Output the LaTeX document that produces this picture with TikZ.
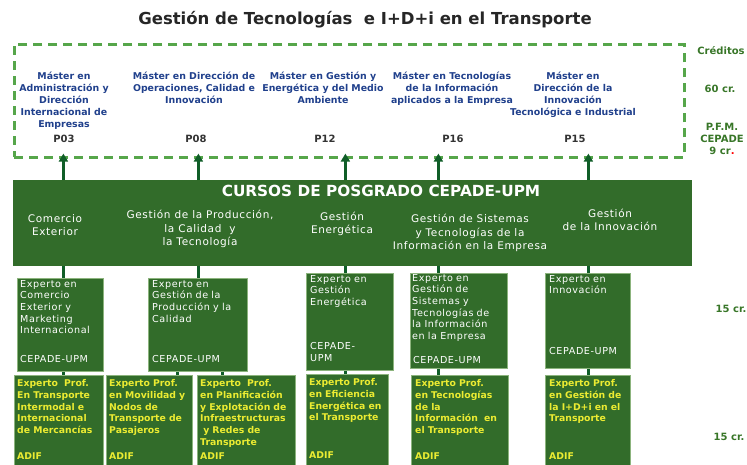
\documentclass[tikz,border=0pt]{standalone}
\usepackage{fontspec}
\setmainfont{DejaVu Sans}
\newfontfamily\spacedfont[LetterSpace=6]{DejaVu Sans}
\usetikzlibrary{arrows.meta}
\usetikzlibrary{positioning}

\definecolor{boxgreen}{RGB}{50,108,42}
\definecolor{arrowgreen}{RGB}{16,94,40}
\definecolor{dashgreen}{RGB}{86,166,74}
\definecolor{masterblue}{RGB}{32,64,140}
\definecolor{creditgreen}{RGB}{56,118,40}
\definecolor{profyellow}{RGB}{236,236,50}
\definecolor{edgegreen}{RGB}{140,180,125}

\begin{document}
\begin{tikzpicture}[
	x = 1pt, y = -1pt, % pixel grid, y grows downwards
	> = {Triangle[width=9pt, length=8pt]}, % arrow head style
	every node/.style = {inner sep=0pt}
	]

	\tikzstyle{dashframe}=[draw=dashgreen, line width=2.6pt, dash pattern=on 9pt off 6pt]
	\tikzstyle{master}=[text=masterblue, font=\bfseries\fontsize{9.4}{12}\selectfont, align=center, anchor=north]
	\tikzstyle{prog}=[text=black!80, font=\bfseries\fontsize{10}{11}\selectfont]
	\tikzstyle{credit}=[text=creditgreen, font=\bfseries\fontsize{10}{12}\selectfont, align=center]
	\tikzstyle{area}=[text=white, font=\spacedfont\fontsize{10.5}{13.5}\selectfont, align=center]
	\tikzstyle{expert}=[fill=boxgreen, draw=edgegreen, line width=0.8pt, anchor=north west]
	\tikzstyle{cepade}=[text=white, font=\spacedfont\fontsize{9.6}{11.6}\selectfont, align=left]
	\tikzstyle{adif}=[text=profyellow, font=\bfseries\fontsize{9.3}{11.9}\selectfont, align=left]
	\tikzstyle{uparrow}=[->, draw=arrowgreen, line width=3pt, shorten >=-5pt]
	\tikzstyle{link}=[draw=arrowgreen, line width=3pt]

	\useasboundingbox (0,0) rectangle (747,464);

	\node[font=\bfseries\fontsize{16.5}{18}\selectfont, text=black!85] (title) at (365,20) {Gestión de Tecnologías \ e I+D+i en el Transporte};

	% masters
	\node[dashframe, minimum width=670pt, minimum height=113pt, anchor=north west] (mframe) at (13,43) {};
	\node[master] (m1) at (64,72) {Máster en\\Administración y\\Dirección\\Internacional de\\Empresas};
	\node[master] (m2) at (194,72) {Máster en Dirección de\\Operaciones, Calidad e\\Innovación};
	\node[master] (m3) at (323,72) {Máster en Gestión y\\Energética y del Medio\\Ambiente};
	\node[master] (m4) at (452,72) {Máster en Tecnologías\\de la Información\\aplicados a la Empresa};
	\node[master] (m5) at (573,72) {Máster en\\Dirección de la\\Innovación\\Tecnológica e Industrial};
	\node[prog] (p1) at (64,139) {P03};
	\node[prog] (p2) at (196,139) {P08};
	\node[prog] (p3) at (325,139) {P12};
	\node[prog] (p4) at (453,139) {P16};
	\node[prog] (p5) at (575,139) {P15};

	% credits
	\node[credit] (cred) at (721,51) {Créditos};
	\node[credit] (cr60) at (720,89) {60 cr.};
	\node[credit] (pfm) at (722,139) {P.F.M.\\CEPADE\\9 cr{\color{red}.}};
	\node[credit] (cr15a) at (731,309) {15 cr.};
	\node[credit] (cr15b) at (729,437) {15 cr.};

	% cursos
	\node[fill=boxgreen, minimum width=679pt, minimum height=86pt, anchor=north west] (cursos) at (13,180) {};
	\node[text=white, font=\bfseries\fontsize{15.3}{17}\selectfont] (ctitle) at (381,191) {CURSOS DE POSGRADO CEPADE-UPM};
	\node[area] (a1) at (55,225) {Comercio\\Exterior};
	\node[area] (a2) at (200,229) {Gestión de la Producción,\\la Calidad \ y\\la Tecnología};
	\node[area] (a3) at (342,224) {Gestión\\Energética};
	\node[area] (a4) at (470,233) {Gestión de Sistemas\\y Tecnologías de la\\Información en la Empresa};
	\node[area] (a5) at (610,220) {Gestión\\de la Innovación};

	% expertos CEPADE-UPM
	\node[expert, minimum width=86pt, minimum height=93pt] (e1) at (17,278) {};
	\node[expert, minimum width=99pt, minimum height=93pt] (e2) at (148,278) {};
	\node[expert, minimum width=87pt, minimum height=97pt] (e3) at (306,273) {};
	\node[expert, minimum width=97pt, minimum height=95pt] (e4) at (410,273) {};
	\node[expert, minimum width=85pt, minimum height=95pt] (e5) at (545,273) {};

	\node[cepade, text width=84pt, below right=2pt and 3pt of e1.north west] (t1) {Experto en\\Comercio\\Exterior y\\Marketing\\Internacional};
	\node[cepade, text width=95pt, below right=2pt and 4pt of e2.north west] (t2) {Experto en\\Gestión de la\\Producción y la\\Calidad};
	\node[cepade, text width=84pt, below right=2pt and 4pt of e3.north west] (t3) {Experto en\\Gestión\\Energética};
	\node[cepade, text width=95pt, below right=1pt and 2pt of e4.north west] (t4) {Experto en\\Gestión de\\Sistemas y\\Tecnologías de\\la Información\\en la Empresa};
	\node[cepade, text width=82pt, below right=2pt and 4pt of e5.north west] (t5) {Experto en\\Innovación};
	\node[cepade, above right=9pt and 3pt of e1.south west] (u1) {CEPADE-UPM};
	\node[cepade, above right=9pt and 4pt of e2.south west] (u2) {CEPADE-UPM};
	\node[cepade, above right=9pt and 4pt of e3.south west] (u3) {CEPADE-\\UPM};
	\node[cepade, above right=5pt and 3pt of e4.south west] (u4) {CEPADE-UPM};
	\node[cepade, above right=14pt and 4pt of e5.south west] (u5) {CEPADE-UPM};

	% expertos profesionales ADIF
	\node[expert, minimum width=89pt, minimum height=91pt] (f1) at (14,375) {};
	\node[expert, minimum width=86pt, minimum height=91pt] (f2) at (106,375) {};
	\node[expert, minimum width=98pt, minimum height=91pt] (f3) at (197,375) {};
	\node[expert, minimum width=82pt, minimum height=92pt] (f4) at (306,374) {};
	\node[expert, minimum width=97pt, minimum height=91pt] (f5) at (411,375) {};
	\node[expert, minimum width=85pt, minimum height=91pt] (f6) at (545,375) {};

	\node[adif, text width=86pt, below right=4pt and 3pt of f1.north west] (g1) {Experto \ Prof.\\En Transporte\\Intermodal e\\Internacional\\de Mercancías};
	\node[adif, text width=83pt, below right=4pt and 3pt of f2.north west] (g2) {Experto Prof.\\en Movilidad y\\Nodos de\\Transporte de\\Pasajeros};
	\node[adif, text width=96pt, below right=4pt and 3pt of f3.north west] (g3) {Experto \ Prof.\\en Planificación\\y Explotación de\\Infraestructuras\\\ y Redes de\\Transporte};
	\node[adif, text width=80pt, below right=4pt and 3pt of f4.north west] (g4) {Experto Prof.\\en Eficiencia\\Energética en\\el Transporte};
	\node[adif, text width=94pt, below right=4pt and 4pt of f5.north west] (g5) {Experto Prof.\\en Tecnologías\\de la\\Información \ en\\el Transporte};
	\node[adif, text width=82pt, below right=4pt and 4pt of f6.north west] (g6) {Experto Prof.\\en Gestión de\\la I+D+i en el\\Transporte};
	\node[adif, above right=7pt and 3pt of f1.south west] (h1) {ADIF};
	\node[adif, above right=7pt and 3pt of f2.south west] (h2) {ADIF};
	\node[adif, above right=7pt and 3pt of f3.south west] (h3) {ADIF};
	\node[adif, above right=8pt and 3pt of f4.south west] (h4) {ADIF};
	\node[adif, above right=7pt and 4pt of f5.south west] (h5) {ADIF};
	\node[adif, above right=7pt and 4pt of f6.south west] (h6) {ADIF};

	% columns
	\coordinate (c1) at ([xshift=3pt]e1.north);
	\coordinate (c2) at ([xshift=0.5pt]e2.north);
	\coordinate (c3) at ([xshift=-4.5pt]e3.north);
	\coordinate (c4) at ([xshift=-20.5pt]e4.north);
	\coordinate (c5) at ([xshift=0.5pt]e5.north);
	\coordinate (s2) at ([xshift=-20.5pt]e2.south);
	\coordinate (s3) at ([xshift=24.5pt]e2.south);

	\foreach \i in {1,...,5} {
		\draw[uparrow] (c\i |- cursos.north) -- (c\i |- mframe.south);
		\draw[link] (c\i |- cursos.south) -- (c\i);
	}

	\draw[link] (c1 |- e1.south) -- (c1 |- f1.north);
	\draw[link] (s2) -- (s2 |- f2.north);
	\draw[link] (s3) -- (s3 |- f3.north);
	\draw[link] (c3 |- e3.south) -- (c3 |- f4.north);
	\draw[link] (c4 |- e4.south) -- (c4 |- f5.north);
	\draw[link] (c5 |- e5.south) -- (c5 |- f6.north);

\end{tikzpicture}
\end{document}
